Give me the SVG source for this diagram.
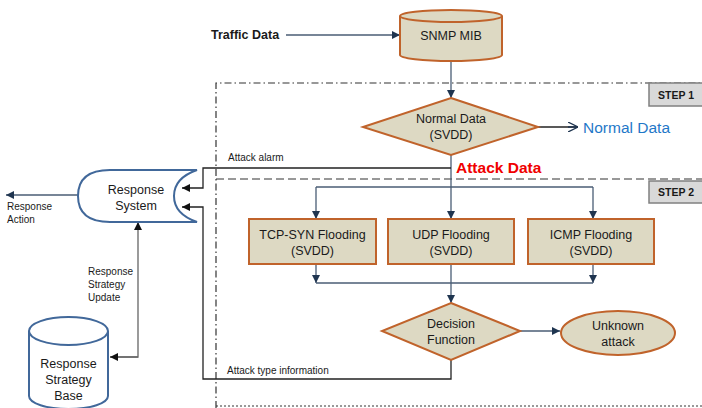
<svg xmlns="http://www.w3.org/2000/svg" width="702" height="408" viewBox="0 0 702 408">
<defs>
<style>
text{font-family:"Liberation Sans",Arial,sans-serif;fill:#1a1a1a}
.beige{fill:#ddd9c3;stroke:#c0632b;stroke-width:2}
.blue{fill:#fff;stroke:#41689a;stroke-width:2}
.conn{fill:none;stroke:#4a5d75;stroke-width:1.3}
.blk{fill:none;stroke:#222;stroke-width:1.3}
.gray{fill:none;stroke:#666;stroke-width:1.3}
.step{fill:#d9d9d9;stroke:#808080;stroke-width:1.5}
.t12{font-size:12.5px;text-anchor:middle}
.t10{font-size:10px}
.st{font-size:10.5px;font-weight:bold;text-anchor:middle}
</style>
<marker id="ah" viewBox="0 0 10 10" refX="10" refY="5" markerWidth="8" markerHeight="8" markerUnits="userSpaceOnUse" orient="auto"><path d="M0,0 L10,5 L0,10 z" fill="#1f3550"/></marker>
<marker id="ak" viewBox="0 0 10 10" refX="10" refY="5" markerWidth="8" markerHeight="8" markerUnits="userSpaceOnUse" orient="auto"><path d="M0,0 L10,5 L0,10 z" fill="#111"/></marker>
<marker id="ao" viewBox="0 0 10 10" refX="10" refY="5" markerWidth="10" markerHeight="10" markerUnits="userSpaceOnUse" orient="auto"><path d="M0,0 L10,5 L0,10 M0,5 L10,5" fill="none" stroke="#1f3550" stroke-width="1.3"/></marker>
</defs>

<g id="regions">
<path d="M216,408 L216,83 L702,83" fill="none" stroke="#333" stroke-width="1.2" stroke-dasharray="7,3,1.5,3"/>
<path d="M216,179 L702,179" fill="none" stroke="#333" stroke-width="1.2" stroke-dasharray="8,4"/>
<path d="M216,406 L702,406" fill="none" stroke="#333" stroke-width="1" stroke-dasharray="2,2"/>
</g>

<g id="step1"><rect class="step" x="649" y="83" width="56" height="23"/><text class="st" x="676" y="98.5">STEP 1</text></g>
<g id="step2"><rect class="step" x="649" y="181" width="56" height="22"/><text class="st" x="676" y="196">STEP 2</text></g>

<g id="connectors">
<path class="conn" d="M286,35 L400,35" marker-end="url(#ah)"/>
<path class="conn" d="M451,62 L451,98" marker-end="url(#ah)"/>
<path class="blk" d="M538,127 L578,127" marker-end="url(#ao)"/>
<path class="conn" d="M451,155 L451,219" marker-end="url(#ah)"/>
<path class="conn" d="M316,187 L593,187"/>
<path class="conn" d="M316,187 L316,219" marker-end="url(#ah)"/>
<path class="conn" d="M593,187 L593,219" marker-end="url(#ah)"/>
<path class="conn" d="M316,264 L316,283" marker-end="url(#ah)"/>
<path class="conn" d="M593,264 L593,283" marker-end="url(#ah)"/>
<path class="conn" d="M316,283 L593,283"/>
<path class="conn" d="M451,264 L451,303" marker-end="url(#ah)"/>
<path class="conn" d="M520,331 L560,331" marker-end="url(#ah)"/>
<path class="blk" d="M451,168 L203,168 L203,188 L182,188" marker-end="url(#ak)"/>
<path class="blk" d="M451,360 L451,379 L203,379 L203,207 L182,207" marker-end="url(#ak)"/>
<path class="conn" d="M78,195 L6,195" marker-end="url(#ah)"/>
<path class="gray" d="M110,357 L138,357 L138,222" marker-end="url(#ak)"/>
<path class="gray" d="M138,357 L110,357" marker-end="url(#ak)"/>
</g>

<g id="traffic"><text x="211" y="39" style="font-size:12.5px;font-weight:bold">Traffic Data</text></g>

<g id="snmp">
<path class="beige" d="M400,16 L400,55 A51,6 0 0 0 502,55 L502,16"/>
<ellipse class="beige" cx="451" cy="16" rx="51" ry="6"/>
<text class="t12" x="451" y="40">SNMP MIB</text>
</g>

<g id="normal">
<polygon class="beige" points="451,98 538,127 451,155 363,127"/>
<text class="t12" x="451" y="123">Normal Data</text>
<text class="t12" x="451" y="139">(SVDD)</text>
</g>

<g id="normalOut"><text x="583" y="133" style="font-size:15.5px;fill:#1f78c8">Normal Data</text></g>
<g id="attackData"><text x="456" y="173" style="font-size:15.5px;font-weight:bold;fill:#f00000">Attack Data</text></g>

<g id="labels">
<text class="t10" x="228" y="161">Attack alarm</text>
<text class="t10" x="227" y="374">Attack type information</text>
<text class="t10" x="7" y="210">Response</text>
<text class="t10" x="7" y="223">Action</text>
<text class="t10" x="88" y="275">Response</text>
<text class="t10" x="88" y="288">Strategy</text>
<text class="t10" x="88" y="301">Update</text>
</g>

<g id="tcp"><rect class="beige" x="249" y="219" width="127" height="45"/>
<text class="t12" x="312.5" y="239">TCP-SYN Flooding</text><text class="t12" x="312.5" y="255">(SVDD)</text></g>
<g id="udp"><rect class="beige" x="388" y="219" width="126" height="45"/>
<text class="t12" x="451" y="239">UDP Flooding</text><text class="t12" x="451" y="255">(SVDD)</text></g>
<g id="icmp"><rect class="beige" x="528" y="219" width="126" height="45"/>
<text class="t12" x="591" y="239">ICMP Flooding</text><text class="t12" x="591" y="255">(SVDD)</text></g>

<g id="decision">
<polygon class="beige" points="451,303 520,331 451,360 382,331"/>
<text class="t12" x="451" y="328">Decision</text>
<text class="t12" x="451" y="344">Function</text>
</g>

<g id="unknown">
<ellipse class="beige" cx="618" cy="333" rx="57" ry="22"/>
<text class="t12" x="618" y="330">Unknown</text>
<text class="t12" x="618" y="346">attack</text>
</g>

<g id="response">
<path class="blue" d="M110,170 L197,170 Q174,178 174,196 Q174,214 197,222 L110,222 Q78,222 78,196 Q78,170 110,170 Z"/>
<text class="t12" x="136" y="194">Response</text>
<text class="t12" x="136" y="210">System</text>
</g>

<g id="strategyBase">
<path class="blue" d="M29,331 L29,396 A39.5,13 0 0 0 108,396 L108,331"/>
<ellipse class="blue" cx="68.5" cy="331" rx="39.5" ry="14"/>
<text class="t12" x="68.5" y="368">Response</text>
<text class="t12" x="68.5" y="384">Strategy</text>
<text class="t12" x="68.5" y="400">Base</text>
</g>
</svg>
